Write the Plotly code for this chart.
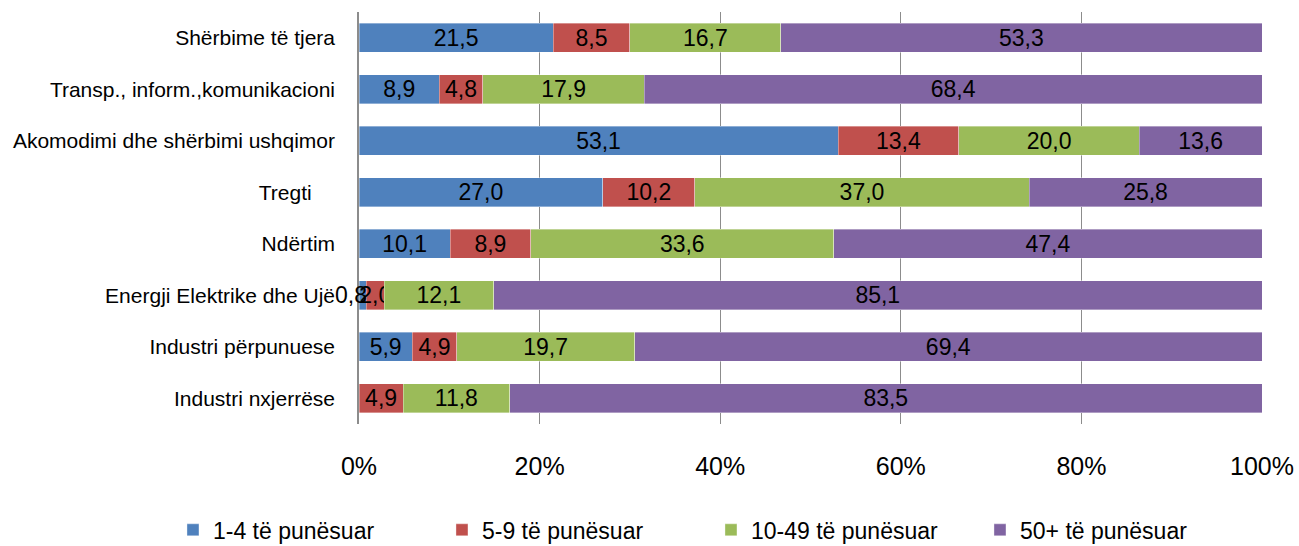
import plotly.graph_objects as go

categories = [
    "Shërbime të tjera",
    "Transp., inform.,komunikacioni",
    "Akomodimi dhe shërbimi ushqimor",
    "Tregti" + "\u00a0" * 4,
    "Ndërtim",
    "Energji Elektrike dhe Ujë",
    "Industri përpunuese",
    "Industri nxjerrëse",
]

s_1_4 = [21.5, 8.9, 53.1, 27.0, 10.1, 0.8, 5.9, None]
s_5_9 = [8.5, 4.8, 13.4, 10.2, 8.9, 2.0, 4.9, 4.9]
s_10_49 = [16.7, 17.9, 20.0, 37.0, 33.6, 12.1, 19.7, 11.8]
s_50 = [53.3, 68.4, 13.6, 25.8, 47.4, 85.1, 69.4, 83.5]

series_names = ["1-4 të punësuar", "5-9 të punësuar", "10-49 të punësuar", "50+ të punësuar"]
series_vals = [s_1_4, s_5_9, s_10_49, s_50]
colors = ["#4F81BD", "#C0504D", "#9BBB59", "#8064A2"]

tick_vals = [0, 20, 40, 60, 80, 100]
tick_text = ["0%", "20%", "40%", "60%", "80%", "100%"]

FONT = "Liberation Sans, Arial, sans-serif"
# the tiny 1-4 segment of this category gets its label right-aligned to the bar end
SMALL_IDX = 5


def fmt(v):
    if v is None:
        return ""
    return f"{v:.1f}".replace(".", ",")


fig = go.Figure()
for k, (name, vals, col) in enumerate(zip(series_names, series_vals, colors)):
    labels = [fmt(v) for v in vals]
    if k == 0:
        labels[SMALL_IDX] = ""
    fig.add_trace(go.Bar(
        y=categories,
        x=vals,
        name=name,
        orientation="h",
        marker=dict(color=col, line=dict(color="rgba(255,255,255,0.6)", width=0.6)),
        text=labels,
        textposition="inside",
        insidetextanchor="middle",
        textangle=0,
        textfont=dict(family=FONT, size=23, color="black"),
        constraintext="none",
        cliponaxis=False,
    ))

fig.add_annotation(
    x=s_1_4[SMALL_IDX],
    y=categories[SMALL_IDX],
    xref="x",
    yref="y",
    text=fmt(s_1_4[SMALL_IDX]),
    showarrow=False,
    xanchor="right",
    yanchor="middle",
    xshift=3,
    font=dict(family=FONT, size=23, color="black"),
)

fig.update_layout(
    barmode="stack",
    barnorm="percent",
    bargap=0.43,
    width=1299,
    height=546,
    margin=dict(l=359, r=37, t=12, b=122, autoexpand=False),
    paper_bgcolor="white",
    plot_bgcolor="white",
    font=dict(family=FONT, color="black"),
    uniformtext=dict(minsize=23, mode="show"),
    showlegend=True,
    legend=dict(
        orientation="h",
        x=-0.206,
        xanchor="left",
        y=-0.257,
        yanchor="middle",
        font=dict(family=FONT, size=23, color="black"),
        entrywidth=224,
        entrywidthmode="pixels",
        traceorder="normal",
        bgcolor="rgba(0,0,0,0)",
    ),
    xaxis=dict(
        range=[0, 100],
        tickvals=tick_vals,
        ticktext=tick_text,
        showgrid=True,
        gridcolor="#8c8c8c",
        gridwidth=1,
        zeroline=False,
        showline=False,
        ticks="",
        ticklabelstandoff=25,
        tickfont=dict(family=FONT, size=25, color="black"),
        fixedrange=True,
    ),
    yaxis=dict(
        autorange="reversed",
        showline=True,
        linecolor="#8c8c8c",
        linewidth=1.5,
        ticks="",
        ticklabelstandoff=18,
        tickfont=dict(family=FONT, size=21, color="black"),
        showgrid=False,
        fixedrange=True,
    ),
)

fig.write_html(
    "out.html",
    config={"displayModeBar": False},
    post_script="document.body.style.margin='0px';document.body.style.overflow='hidden';",
)
